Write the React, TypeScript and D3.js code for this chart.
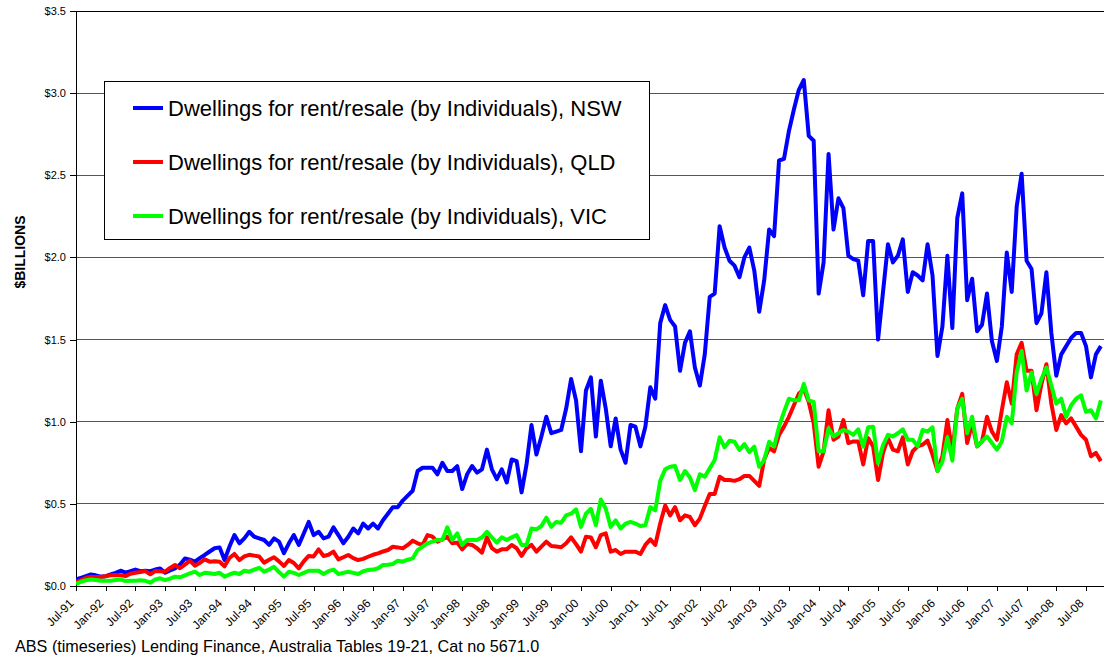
import React, { useEffect, useRef } from 'react';
import * as d3 from 'd3';

// monthly values, $ billions, starting Jul-91
const startMonth = new Date(1991, 6, 1);

const nsw = [
  0.04, 0.05, 0.06, 0.07, 0.065, 0.057, 0.06, 0.07, 0.08, 0.093, 0.081, 0.09,
  0.10, 0.09, 0.093, 0.09, 0.10, 0.107, 0.081, 0.095, 0.107, 0.13, 0.168, 0.16,
  0.148, 0.17, 0.189, 0.21, 0.23, 0.235, 0.158, 0.24, 0.31, 0.26, 0.29, 0.33,
  0.30, 0.29, 0.28, 0.25, 0.29, 0.27, 0.20, 0.26, 0.31, 0.25, 0.32, 0.39,
  0.31, 0.33, 0.29, 0.30, 0.357, 0.31, 0.26, 0.30, 0.35, 0.32, 0.38, 0.35,
  0.38, 0.35, 0.40, 0.44, 0.48, 0.48, 0.52, 0.55, 0.58, 0.70, 0.72, 0.72,
  0.72, 0.68, 0.75, 0.70, 0.70, 0.73, 0.59, 0.68, 0.73, 0.69, 0.71, 0.83,
  0.71, 0.65, 0.71, 0.63, 0.77, 0.76, 0.57, 0.74, 0.98, 0.80, 0.91, 1.03,
  0.93, 0.94, 0.95, 1.08, 1.26, 1.13, 0.82, 1.19, 1.27, 0.91, 1.25, 1.08,
  0.85, 1.02, 0.83, 0.75, 0.98, 0.97, 0.85, 0.97, 1.21, 1.14, 1.60, 1.71,
  1.62, 1.58, 1.31, 1.48, 1.55, 1.33, 1.22, 1.41, 1.76, 1.78, 2.19, 2.06,
  1.98, 1.95, 1.88, 2.00, 2.06, 1.92, 1.67, 1.86, 2.17, 2.13, 2.59, 2.60,
  2.77, 2.90, 3.02, 3.08, 2.74, 2.71, 1.78, 1.97, 2.63, 2.17, 2.36, 2.30,
  2.01, 1.99, 1.98, 1.77, 2.10, 2.10, 1.50, 1.79, 2.08, 1.97, 2.01, 2.11,
  1.79, 1.91, 1.89, 1.86, 2.08, 1.89, 1.40, 1.58, 2.01, 1.57, 2.24, 2.39,
  1.74, 1.87, 1.55, 1.59, 1.78, 1.49, 1.37, 1.58, 2.03, 1.79, 2.31, 2.51,
  1.98, 1.93, 1.60, 1.66, 1.91, 1.54, 1.28, 1.41, 1.46, 1.51, 1.54, 1.54,
  1.46, 1.27, 1.41, 1.46,
];

const qld = [
  0.026, 0.035, 0.05, 0.055, 0.055, 0.057, 0.06, 0.065, 0.067, 0.065, 0.06, 0.075,
  0.081, 0.085, 0.091, 0.071, 0.091, 0.09, 0.087, 0.11, 0.128, 0.108, 0.13, 0.154,
  0.124, 0.14, 0.162, 0.148, 0.15, 0.148, 0.12, 0.17, 0.195, 0.158, 0.18, 0.19,
  0.185, 0.18, 0.142, 0.16, 0.175, 0.15, 0.122, 0.158, 0.14, 0.108, 0.15, 0.183,
  0.18, 0.223, 0.183, 0.19, 0.209, 0.162, 0.175, 0.189, 0.17, 0.158, 0.165, 0.178,
  0.19, 0.199, 0.21, 0.219, 0.239, 0.235, 0.229, 0.25, 0.276, 0.26, 0.25, 0.31,
  0.30, 0.27, 0.284, 0.30, 0.26, 0.264, 0.223, 0.255, 0.25, 0.23, 0.203, 0.296,
  0.23, 0.209, 0.223, 0.223, 0.25, 0.23, 0.183, 0.23, 0.25, 0.209, 0.24, 0.27,
  0.243, 0.24, 0.236, 0.26, 0.296, 0.255, 0.209, 0.30, 0.296, 0.236, 0.31, 0.32,
  0.209, 0.219, 0.195, 0.209, 0.209, 0.209, 0.195, 0.25, 0.284, 0.25, 0.38, 0.49,
  0.43, 0.48, 0.40, 0.43, 0.42, 0.37, 0.41, 0.487, 0.56, 0.56, 0.665, 0.645,
  0.645, 0.64, 0.65, 0.67, 0.67, 0.64, 0.61, 0.77, 0.84, 0.82, 0.92, 0.97,
  1.03, 1.10, 1.17, 1.20, 1.12, 0.99, 0.726, 0.82, 1.07, 0.89, 0.91, 1.01,
  0.87, 0.88, 0.88, 0.74, 0.90, 0.85, 0.645, 0.81, 0.90, 0.83, 0.82, 0.905,
  0.74, 0.82, 0.85, 0.86, 0.885, 0.80, 0.70, 0.79, 1.01, 0.82, 1.08, 1.17,
  0.87, 0.99, 0.85, 0.88, 1.03, 0.94, 0.89, 1.07, 1.24, 1.11, 1.41, 1.48,
  1.31, 1.31, 1.07, 1.23, 1.35, 1.11, 0.95, 1.04, 0.99, 1.02, 0.97, 0.92,
  0.89, 0.79, 0.81, 0.76,
];

const vic = [
  0.012, 0.026, 0.035, 0.04, 0.036, 0.032, 0.032, 0.032, 0.036, 0.04, 0.03, 0.032,
  0.032, 0.035, 0.032, 0.02, 0.04, 0.047, 0.036, 0.045, 0.057, 0.053, 0.065, 0.077,
  0.087, 0.067, 0.081, 0.077, 0.073, 0.081, 0.057, 0.07, 0.081, 0.073, 0.093, 0.087,
  0.10, 0.111, 0.087, 0.10, 0.117, 0.085, 0.057, 0.087, 0.08, 0.067, 0.08, 0.093,
  0.093, 0.093, 0.073, 0.09, 0.10, 0.073, 0.08, 0.087, 0.08, 0.073, 0.09, 0.097,
  0.10, 0.108, 0.128, 0.13, 0.134, 0.154, 0.148, 0.16, 0.168, 0.219, 0.24, 0.26,
  0.27, 0.28, 0.28, 0.357, 0.28, 0.32, 0.25, 0.28, 0.28, 0.28, 0.296, 0.33,
  0.296, 0.264, 0.296, 0.28, 0.296, 0.31, 0.25, 0.25, 0.35, 0.345, 0.365, 0.416,
  0.36, 0.39, 0.385, 0.43, 0.44, 0.467, 0.36, 0.44, 0.47, 0.37, 0.527, 0.47,
  0.36, 0.40, 0.35, 0.38, 0.39, 0.38, 0.365, 0.37, 0.48, 0.46, 0.64, 0.71,
  0.726, 0.73, 0.645, 0.70, 0.66, 0.584, 0.68, 0.665, 0.716, 0.767, 0.905, 0.844,
  0.884, 0.878, 0.828, 0.864, 0.814, 0.848, 0.726, 0.767, 0.878, 0.848, 0.97, 1.06,
  1.14, 1.13, 1.13, 1.23, 1.13, 1.12, 0.82, 0.82, 0.96, 0.91, 0.93, 0.95,
  0.94, 0.92, 0.954, 0.848, 0.966, 0.97, 0.747, 0.858, 0.92, 0.91, 0.93, 0.954,
  0.89, 0.89, 0.85, 0.95, 0.94, 0.966, 0.70, 0.757, 0.905, 0.763, 1.08, 1.14,
  0.93, 1.03, 0.85, 0.88, 0.91, 0.87, 0.83, 0.88, 1.03, 0.99, 1.30, 1.43,
  1.19, 1.30, 1.17, 1.26, 1.33, 1.22, 1.11, 1.14, 1.03, 1.10, 1.14, 1.16,
  1.06, 1.07, 1.02, 1.13,
];

const seriesNames = [
  'Dwellings for rent/resale (by Individuals), NSW',
  'Dwellings for rent/resale (by Individuals), QLD',
  'Dwellings for rent/resale (by Individuals), VIC',
];
const seriesColors = ['#0000ff', '#ff0000', '#00ff00'];
const yTicks = [0, 0.5, 1, 1.5, 2, 2.5, 3, 3.5];
const xTickMonths = d3.range(0, 205, 6);

const font = 'Arial, "Liberation Sans", sans-serif';

export default function App() {
  const ref = useRef<SVGSVGElement>(null);

  useEffect(() => {
    const svg = d3.select(ref.current);
    svg.selectAll('*').remove();

    const left = 76, right = 1104, top = 11, bottom = 586;

    const x = d3.scaleLinear().domain([0, 204]).range([left, 1086]);
    const y = d3.scaleLinear().domain([0, 3.5]).range([bottom, top]);
    const fmt = d3.timeFormat('%b-%y');

    svg.append('defs').append('clipPath').attr('id', 'plot')
      .append('rect').attr('x', left).attr('y', 0).attr('width', right - left).attr('height', bottom + 4);

    // gridlines
    svg.append('g')
      .selectAll('line')
      .data(yTicks.filter(d => d > 0))
      .join('line')
        .attr('x1', left).attr('x2', right)
        .attr('y1', d => y(d)).attr('y2', d => y(d))
        .attr('stroke', d => d === 3.5 ? '#000' : '#555')
        .attr('stroke-width', 1)
        .attr('shape-rendering', 'crispEdges');

    // y axis
    const yAxis = svg.append('g')
      .attr('transform', `translate(${left},0)`)
      .call(d3.axisLeft(y).tickValues(yTicks).tickSize(6).tickPadding(4)
        .tickFormat(d => '$' + (+d).toFixed(1)));
    yAxis.select('.domain').attr('stroke', '#000').attr('shape-rendering', 'crispEdges');
    yAxis.selectAll('.tick line').attr('stroke', '#000').attr('shape-rendering', 'crispEdges');
    yAxis.selectAll('text').attr('font-family', font).attr('font-size', 11).attr('fill', '#000');

    // x axis
    const xAxis = svg.append('g')
      .attr('transform', `translate(0,${bottom})`)
      .call(d3.axisBottom(x).tickValues(xTickMonths).tickSize(5).tickSizeOuter(0)
        .tickFormat(d => fmt(d3.timeMonth.offset(startMonth, +d))));
    xAxis.select('.domain').attr('stroke', '#000').attr('d', `M${left},0.5H${right}`)
      .attr('shape-rendering', 'crispEdges');
    xAxis.selectAll('.tick line').attr('stroke', '#000').attr('shape-rendering', 'crispEdges');
    xAxis.selectAll('text')
      .attr('font-family', font).attr('font-size', 12).attr('fill', '#000')
      .attr('text-anchor', 'end')
      .attr('dy', null)
      .attr('y', 0)
      .attr('transform', 'translate(-2,18) rotate(-45)');

    // lines
    const line = d3.line<number>()
      .x((d, i) => x(i))
      .y(d => y(d));

    svg.append('g')
      .attr('clip-path', 'url(#plot)')
      .selectAll('path')
      .data([nsw, qld, vic])
      .join('path')
        .attr('d', d => line(d))
        .attr('fill', 'none')
        .attr('stroke', (d, i) => seriesColors[i])
        .attr('stroke-width', 4)
        .attr('stroke-linejoin', 'round');

    // legend
    const legend = svg.append('g');
    legend.append('rect')
      .attr('x', 104.5).attr('y', 81.5).attr('width', 545).attr('height', 158)
      .attr('fill', '#fff').attr('stroke', '#000');
    const rows = legend.selectAll('g.row')
      .data(seriesNames)
      .join('g')
        .attr('class', 'row')
        .attr('transform', (d, i) => `translate(0,${108 + i * 54})`);
    rows.append('line')
      .attr('x1', 133).attr('x2', 163)
      .attr('stroke', (d, i) => seriesColors[i])
      .attr('stroke-width', 4);
    rows.append('text')
      .attr('x', 168).attr('y', 8)
      .attr('font-family', font).attr('font-size', 22)
      .text(d => d);

    // titles
    svg.append('text')
      .attr('transform', 'translate(25,252) rotate(-90)')
      .attr('text-anchor', 'middle')
      .attr('font-family', font).attr('font-size', 14).attr('font-weight', 'bold')
      .text('$BILLIONS');

    svg.append('text')
      .attr('x', 15).attr('y', 652)
      .attr('font-family', font).attr('font-size', 16.2)
      .text('ABS (timeseries) Lending Finance, Australia Tables 19-21, Cat no 5671.0');
  }, []);

  return (
    <svg ref={ref} width={1104} height={657}
      style={{ position: 'absolute', left: 0, top: 0, background: '#fff' }} />
  );
}
